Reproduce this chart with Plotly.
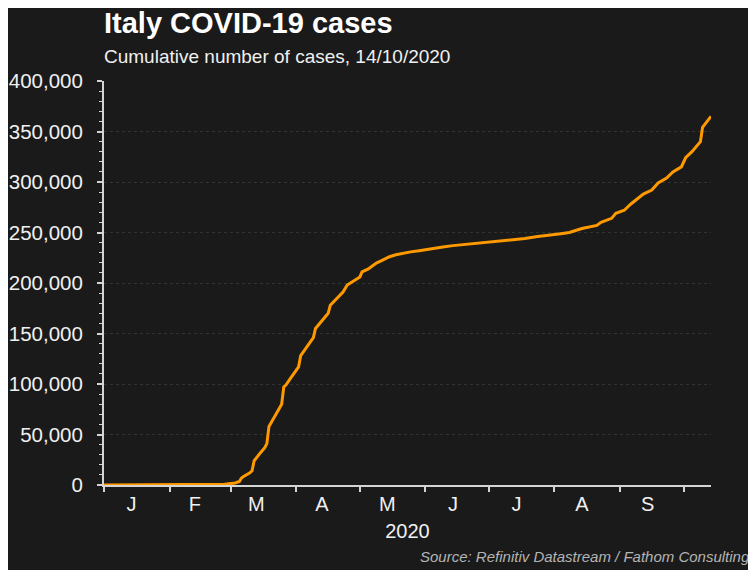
import plotly.graph_objects as go

# Cumulative COVID-19 cases in Italy
dates = [
    "2020-01-01", "2020-02-22", "2020-02-27", "2020-03-03", "2020-03-05", "2020-03-06",
    "2020-03-07", "2020-03-10", "2020-03-11", "2020-03-12", "2020-03-13", "2020-03-15",
    "2020-03-17", "2020-03-18", "2020-03-19", "2020-03-22", "2020-03-25", "2020-03-26",
    "2020-03-27", "2020-03-29", "2020-04-01", "2020-04-02", "2020-04-03", "2020-04-08",
    "2020-04-09", "2020-04-10", "2020-04-14", "2020-04-16", "2020-04-17", "2020-04-22",
    "2020-04-23", "2020-04-25", "2020-04-29", "2020-05-01", "2020-05-02", "2020-05-05",
    "2020-05-07", "2020-05-09", "2020-05-11", "2020-05-15", "2020-05-18", "2020-05-22",
    "2020-05-25", "2020-05-29", "2020-06-02", "2020-06-06", "2020-06-10", "2020-06-14",
    "2020-06-18", "2020-06-22", "2020-06-28", "2020-07-03", "2020-07-08", "2020-07-13",
    "2020-07-18", "2020-07-24", "2020-07-30", "2020-08-01", "2020-08-04", "2020-08-08",
    "2020-08-14", "2020-08-18", "2020-08-21", "2020-08-23", "2020-08-28", "2020-08-30",
    "2020-09-03", "2020-09-06", "2020-09-09", "2020-09-12", "2020-09-16", "2020-09-19",
    "2020-09-23", "2020-09-26", "2020-09-30", "2020-10-02", "2020-10-05", "2020-10-08",
    "2020-10-09", "2020-10-10", "2020-10-11", "2020-10-12", "2020-10-13", "2020-10-14",
]
cases = [
    0, 0, 700, 2000, 3500, 7000,
    8500, 12000, 14000, 24000, 27000, 32000,
    37000, 41000, 58000, 69000, 80000, 97000,
    99000, 105000, 115000, 117000, 128000, 143000,
    146000, 155000, 165000, 170000, 178000, 188000,
    191000, 198000, 203000, 206000, 211000, 214000,
    217000, 220000, 222000, 226000, 228000, 230000,
    230800, 232000, 233500, 235000, 235800, 237000,
    237800, 239000, 240000, 241000, 242000, 242800,
    244000, 246000, 247000, 248000, 248800, 250000,
    254000, 255500, 257000, 260000, 264000, 269000,
    272000, 278000, 283000, 288000, 292000, 299000,
    304000, 310000, 315000, 324000, 330000, 337000,
    340000, 354000, 357000, 360000, 363000, 365000,
]

month_starts = ["2020-01-01", "2020-02-01", "2020-03-01", "2020-04-01", "2020-05-01",
                "2020-06-01", "2020-07-01", "2020-08-01", "2020-09-01", "2020-10-01"]
month_label_dates = ["2020-01-14", "2020-02-13", "2020-03-13", "2020-04-13", "2020-05-14",
                     "2020-06-14", "2020-07-14", "2020-08-14", "2020-09-14"]
month_labels = ["J", "F", "M", "A", "M", "J", "J", "A", "S"]

title_text = "Italy COVID-19 cases"
subtitle_text = "Cumulative number of cases, 14/10/2020"
source_text = "Source: Refinitiv Datastream / Fathom Consulting"
x_title = "2020"

BG = "#1a1a1a"
FG = "#f0f0f0"
AXIS = "#d4d4d4"
FONT = "Liberation Sans, Arial, sans-serif"

# plot area in figure pixels
L, T, W, H = 96, 73, 607, 404

fig = go.Figure()
fig.add_trace(go.Scatter(
    x=dates, y=cases, mode="lines",
    line=dict(color="#ff9900", width=3),
    hoverinfo="skip", showlegend=False,
))

fig.update_layout(
    width=756, height=570,
    margin=dict(l=L, r=756 - L - W, t=T, b=570 - T - H),
    paper_bgcolor=BG,
    plot_bgcolor=BG,
    font=dict(family=FONT, color=FG, size=20),
    title=dict(
        text="<b>" + title_text + "</b>",
        font=dict(family=FONT, size=29, color="#ffffff"),
        x=96 / 756, xref="container", xanchor="left",
        y=1 - 5 / 570, yref="container", yanchor="top",
    ),
    annotations=[
        dict(text=subtitle_text, xref="paper", yref="paper",
             x=-2 / W, y=(T + H - 49) / H, xanchor="left", yanchor="middle",
             showarrow=False, font=dict(family=FONT, size=19, color=FG)),
        dict(text="<i>" + source_text + "</i>", xref="paper", yref="paper",
             x=(744 - L) / W, y=(T + H - 548) / H, xanchor="right", yanchor="middle",
             showarrow=False, font=dict(family=FONT, size=15, color="#b4b4b4")),
    ],
)

fig.update_xaxes(
    type="date",
    range=["2020-01-01", "2020-10-14"],
    automargin=False,
    tickmode="array", tickvals=month_label_dates, ticktext=month_labels,
    ticks="", showgrid=False, zeroline=False,
    showline=True, linecolor=AXIS, linewidth=2,
    tickfont=dict(family=FONT, size=20, color=FG),
    ticklabelstandoff=0,
    minor=dict(tickmode="array", tickvals=month_starts, ticks="outside",
               ticklen=5, tickwidth=1.5, tickcolor=AXIS, showgrid=False),
    title=dict(text=x_title, font=dict(family=FONT, size=20, color=FG), standoff=10),
)

fig.update_yaxes(
    range=[0, 400000],
    automargin=False,
    dtick=50000, tickformat=",d",
    ticks="outside", ticklen=5, tickwidth=1.5, tickcolor=AXIS,
    showline=True, linecolor=AXIS, linewidth=2,
    showgrid=True, gridcolor="#303430", griddash="dot", gridwidth=1,
    zeroline=False,
    tickfont=dict(family=FONT, size=20.5, color=FG),
    ticklabelstandoff=10,
    minor=dict(dtick=10000, ticks="outside", ticklen=3, tickwidth=1,
               tickcolor=AXIS, showgrid=False),
)

fig.write_html("out.html")
